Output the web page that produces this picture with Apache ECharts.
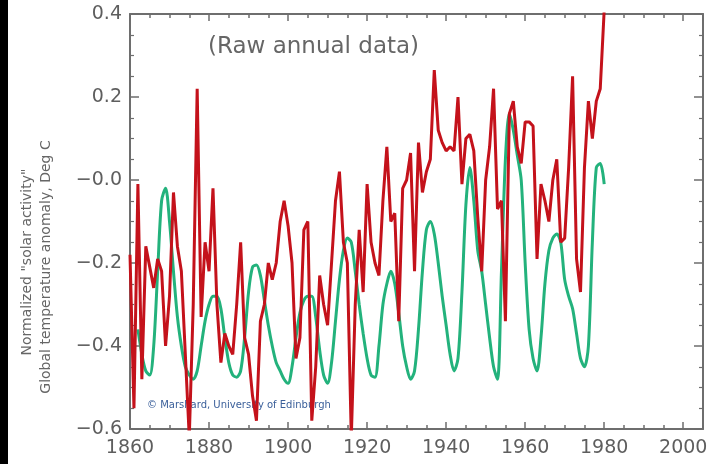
<!DOCTYPE html>
<html>
<head>
<meta charset="utf-8">
<script src="https://cdn.jsdelivr.net/npm/echarts@6/dist/echarts.min.js"></script>
</head>
<body style="margin:0;background:#fff">
<div id="main" style="width:712px;height:464px"></div>
<script>
// global temperature anomaly (red), one value per year from 1860
var tempStart = 1860;
var tempValues = [
	-0.18, -0.55, -0.01, -0.48, -0.16, -0.21, -0.26, -0.19, -0.22, -0.40,
	-0.28, -0.03, -0.16, -0.22, -0.42, -0.62, -0.30, 0.22, -0.33, -0.15,
	-0.22, -0.02, -0.30, -0.44, -0.37, -0.40, -0.42, -0.30, -0.15, -0.38,
	-0.42, -0.52, -0.58, -0.34, -0.30, -0.20, -0.24, -0.20, -0.10, -0.05,
	-0.11, -0.20, -0.43, -0.38, -0.12, -0.10, -0.58, -0.45, -0.23, -0.30,
	-0.35, -0.20, -0.05, 0.02, -0.15, -0.20, -0.62, -0.30, -0.12, -0.27,
	-0.01, -0.15, -0.20, -0.23, -0.05, 0.08, -0.10, -0.08, -0.34, -0.02,
	0.00, 0.065, -0.22, 0.09, -0.03, 0.02, 0.05, 0.265, 0.12, 0.09,
	0.07, 0.08, 0.07, 0.20, -0.01, 0.10, 0.11, 0.07, -0.09, -0.22,
	0.00, 0.08, 0.22, -0.07, -0.05, -0.34, 0.16, 0.19, 0.08, 0.04,
	0.14, 0.14, 0.13, -0.19, -0.01, -0.05, -0.10, 0.00, 0.05, -0.15,
	-0.14, 0.03, 0.25, -0.19, -0.27, 0.03, 0.19, 0.10, 0.19, 0.22,
	0.41
];

// normalized solar activity (green), one value per year from 1862
var solarStart = 1862;
var solarValues = [
	-0.36, -0.42, -0.46, -0.47, -0.40, -0.22, -0.05, -0.02,
	-0.10, -0.22, -0.33, -0.40, -0.45, -0.47, -0.48, -0.46, -0.40, -0.34,
	-0.30, -0.28, -0.28, -0.31, -0.38, -0.44, -0.47, -0.475, -0.46, -0.38,
	-0.27, -0.21, -0.205, -0.23, -0.29, -0.35, -0.40, -0.44, -0.46, -0.48,
	-0.49, -0.45, -0.38, -0.32, -0.29, -0.28, -0.28, -0.33, -0.41, -0.47,
	-0.49, -0.44, -0.34, -0.24, -0.17, -0.14, -0.15, -0.22, -0.30, -0.37,
	-0.43, -0.47, -0.475, -0.40, -0.30, -0.25, -0.22, -0.25, -0.32, -0.40,
	-0.45, -0.48, -0.46, -0.36, -0.22, -0.12, -0.10, -0.13, -0.20, -0.28,
	-0.35, -0.42, -0.46, -0.43, -0.27, -0.06, 0.03, -0.05, -0.17, -0.22,
	-0.30, -0.38, -0.45, -0.48, -0.22, 0.05, 0.16, 0.12, 0.06, 0.00,
	-0.20, -0.36, -0.43, -0.46, -0.38, -0.25, -0.17, -0.14, -0.13, -0.15,
	-0.24, -0.28, -0.31, -0.37, -0.43, -0.45, -0.40, -0.15, 0.03, 0.04,
	-0.01
];

var yMin = -0.6, yMax = 0.4;
var xMin = 1860, xMax = 2005;

function toPairs(start, vals) {
	var out = [];
	for (var i = 0; i < vals.length; i++) {
		out.push([start + i, vals[i]]);
	}
	return out;
}

var axisColor = '#6e6e6e';

// grid 0: box, major ticks, labels; grid 1 (same box): 5-year minor ticks only
function xa(gi, pos, step, len, line, lab) {
	var l = { show: lab, showMaxLabel: false };
	if (lab) {
		l.color = '#5e5e5e'; l.fontFamily = 'DejaVu Sans'; l.fontSize = 19; l.margin = 10;
		l.formatter = function (v) { return String(v); };
	}
	return {
		type: 'value', gridIndex: gi, position: pos, min: xMin, max: xMax, interval: step,
		axisLine: { show: line, onZero: false, lineStyle: { color: axisColor, width: 2 } },
		axisTick: { show: true, inside: true, length: len, lineStyle: { color: axisColor, width: 1.5 } },
		axisLabel: l, splitLine: { show: false }
	};
}

function ya(gi, pos, show, lab) {
	var l = { show: lab };
	if (lab) {
		l.color = '#5e5e5e'; l.fontFamily = 'DejaVu Sans'; l.fontSize = 19; l.margin = 8;
		l.formatter = function (v) { return v > 0.01 ? v.toFixed(1) : '\u2212' + Math.abs(v).toFixed(1); };
	}
	return {
		type: 'value', gridIndex: gi, show: show, position: pos, min: yMin, max: yMax, interval: 0.2,
		axisLine: { show: true, onZero: false, lineStyle: { color: axisColor, width: 2 } },
		axisTick: { show: true, inside: true, length: 9, lineStyle: { color: axisColor, width: 1.5 } },
		minorTick: { show: true, splitNumber: 4, length: 4, lineStyle: { color: axisColor, width: 1.2 } },
		axisLabel: l, splitLine: { show: false }
	};
}

var chart = echarts.init(document.getElementById('main'));
chart.setOption({
	backgroundColor: '#ffffff',
	animation: false,
	grid: [
		{ left: 130, right: 9, top: 14, bottom: 35 },
		{ left: 130, right: 9, top: 14, bottom: 35 }
	],
	xAxis: [
		xa(0, 'bottom', 20, 7, true, true),
		xa(0, 'top', 20, 7, true, false),
		xa(1, 'bottom', 5, 4, false, false),
		xa(1, 'top', 5, 4, false, false)
	],
	yAxis: [
		ya(0, 'left', true, true),
		ya(0, 'right', true, false),
		ya(1, 'left', false, false)
	],
	graphic: [
		{ type: 'rect', left: 0, top: 0, shape: { width: 8, height: 464 }, style: { fill: '#000' } },
		{ type: 'text', x: 208, y: 36, style: { text: '(Raw annual data)', fill: '#666', font: '23px "DejaVu Sans"' } },
		{
			type: 'text', x: 27, y: 262, rotation: Math.PI / 2,
			style: { text: 'Normalized "solar activity"', fill: '#666', font: '14px "DejaVu Sans"', textAlign: 'center', textVerticalAlign: 'middle' }
		},
		{
			type: 'text', x: 46, y: 267, rotation: Math.PI / 2,
			style: { text: 'Global temperature anomaly, Deg C', fill: '#666', font: '14px "DejaVu Sans"', textAlign: 'center', textVerticalAlign: 'middle' }
		},
		{ type: 'text', x: 147, y: 400, style: { text: '\u00A9 Marshard, University of Edinburgh', fill: '#3a5f9a', font: '10px "DejaVu Sans"' } }
	],
	series: [
		{
			name: 'solar', type: 'line',
			data: toPairs(solarStart, solarValues),
			showSymbol: false, smooth: 0.3,
			lineStyle: { color: '#23b27c', width: 3 }
		},
		{
			name: 'temperature', type: 'line',
			data: toPairs(tempStart, tempValues),
			showSymbol: false,
			lineStyle: { color: '#c4121b', width: 3 }
		}
	]
});
</script>
</body>
</html>
